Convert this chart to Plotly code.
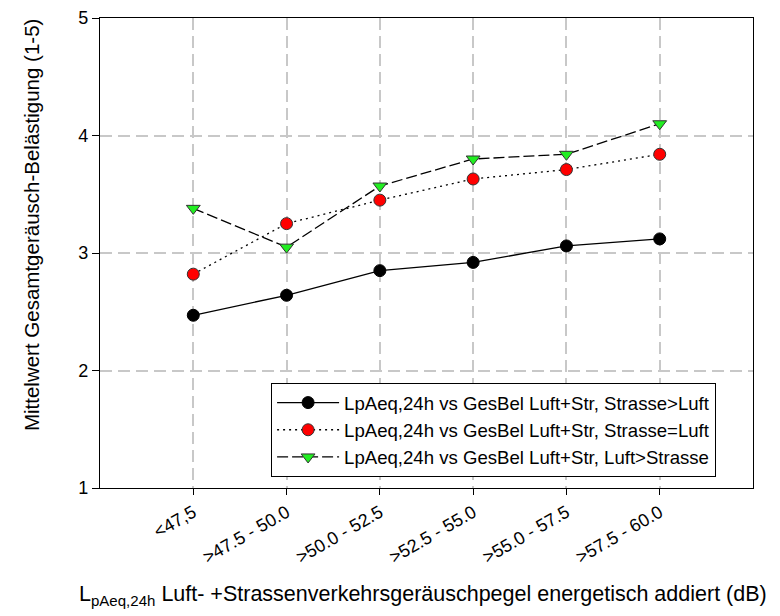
import plotly.graph_objects as go

categories = ["<47,5", ">47.5 - 50.0", ">50.0 - 52.5", ">52.5 - 55.0", ">55.0 - 57.5", ">57.5 - 60.0"]
strasse_gt_luft = [2.47, 2.64, 2.85, 2.92, 3.06, 3.12]
strasse_eq_luft = [2.82, 3.25, 3.45, 3.63, 3.71, 3.84]
luft_gt_strasse = [3.38, 3.05, 3.57, 3.80, 3.84, 4.10]
series_names = [
    "LpAeq,24h vs GesBel Luft+Str, Strasse>Luft",
    "LpAeq,24h vs GesBel Luft+Str, Strasse=Luft",
    "LpAeq,24h vs GesBel Luft+Str, Luft>Strasse",
]
y_ticks = [1, 2, 3, 4, 5]
x_title = "L<sub>pAeq,24h</sub> Luft- +Strassenverkehrsgeräuschpegel energetisch addiert (dB)"
y_title = "Mittelwert Gesamtgeräusch-Belästigung (1-5)"

xpos = list(range(len(categories)))
FONT = "Liberation Sans, Arial, sans-serif"

fig = go.Figure()
fig.add_trace(go.Scatter(
    x=xpos, y=strasse_gt_luft, name=series_names[0], mode="lines+markers",
    line=dict(color="black", width=1.3),
    marker=dict(symbol="circle", size=12, color="black", line=dict(color="black", width=1)),
))
fig.add_trace(go.Scatter(
    x=xpos, y=strasse_eq_luft, name=series_names[1], mode="lines+markers",
    line=dict(color="black", width=1.3, dash="2px,4px"),
    marker=dict(symbol="circle", size=12, color="#ff0000", line=dict(color="#333333", width=1)),
))
fig.add_trace(go.Scatter(
    x=xpos, y=luft_gt_strasse, name=series_names[2], mode="lines+markers",
    line=dict(color="black", width=1.3, dash="11px,4px"),
    marker=dict(symbol="triangle-down", size=12, color="#22ee22", line=dict(color="#333333", width=1)),
))

# the page body adds an 8px offset, so the figure is 8px smaller than the window
fig.update_layout(
    width=772, height=608,
    margin=dict(l=92, r=27, t=10, b=128, autoexpand=False),
    paper_bgcolor="white", plot_bgcolor="white",
    font=dict(family=FONT, color="black", size=18),
    showlegend=True,
    legend=dict(
        x=0.262, y=0.2234, xanchor="left", yanchor="top",
        bgcolor="white", bordercolor="black", borderwidth=1,
        font=dict(family=FONT, size=18.6, color="black"),
        tracegroupgap=0, itemwidth=62,
    ),
    xaxis=dict(
        range=[-1, 6], tickmode="array", tickvals=xpos, ticktext=categories,
        tickangle=-30, tickfont=dict(size=18, family=FONT),
        showline=True, linecolor="black", linewidth=1.3, mirror=True,
        ticks="outside", ticklen=6, tickcolor="black",
        showgrid=True, gridcolor="#c8c8c8", gridwidth=1.5, griddash="12px,6px",
        zeroline=False, automargin=False,
    ),
    yaxis=dict(
        range=[1, 5], tickmode="array", tickvals=y_ticks,
        tickfont=dict(size=18, family=FONT),
        showline=True, linecolor="black", linewidth=1.3, mirror=True,
        ticks="outside", ticklen=7, tickcolor="black",
        showgrid=True, gridcolor="#c8c8c8", gridwidth=1.5, griddash="12px,6px",
        zeroline=False, automargin=False,
    ),
)

fig.add_annotation(
    text=x_title, xref="paper", yref="paper", x=-0.0352, y=-0.195,
    xanchor="left", yanchor="top", showarrow=False,
    font=dict(size=21.5, family=FONT, color="black"),
)
fig.add_annotation(
    text=y_title, xref="paper", yref="paper", x=-0.104, y=0.5596,
    xanchor="center", yanchor="middle", textangle=-90, showarrow=False,
    font=dict(size=20.5, family=FONT, color="black"),
)

fig.write_html("out.html")
